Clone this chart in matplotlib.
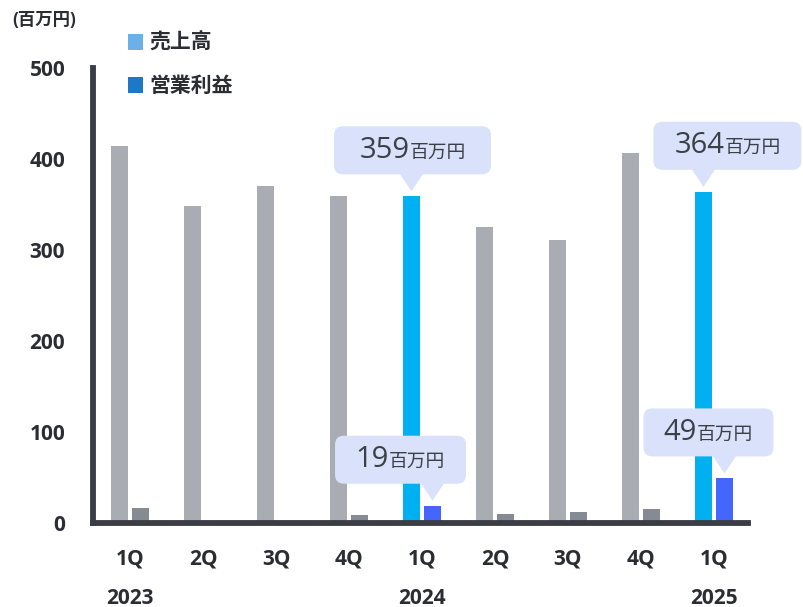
"""
Quarterly sales / operating profit bar chart with callouts.
"""
import matplotlib
matplotlib.use("Agg")
import matplotlib.pyplot as plt
from matplotlib.patches import FancyBboxPatch, Polygon, Rectangle
from matplotlib.transforms import ScaledTranslation
from matplotlib.offsetbox import TextArea, HPacker, AnnotationBbox
import numpy as np

# ----------------- data -----------------------------------------------------
quarters = ["1Q", "2Q", "3Q", "4Q", "1Q", "2Q", "3Q", "4Q", "1Q"]
year_labels = ["2023", "", "", "", "2024", "", "", "", "2025"]
sales = [414, 348, 370, 359, 359, 325, 311, 407, 364]        # 売上高
profit = [16, 1, 0, 9, 19, 10, 12, 15, 49]                    # 営業利益
highlight = [False, False, False, False, True, False, False, False, True]

# ----------------- style ----------------------------------------------------
plt.rcParams["font.family"] = ["Open Sans", "Noto Sans CJK JP", "DejaVu Sans"]
CJK = ["Noto Sans CJK JP", "DejaVu Sans"]

AXIS_C = "#3a3d43"
TEXT_C = "#2b2d32"
SALES_GRAY = "#a9acb3"
PROFIT_GRAY = "#868a93"
SALES_HI = "#00b0f0"
PROFIT_HI = "#4466ff"
CALLOUT_BG = "#d9e1fb"
CALLOUT_TXT = "#3b3f47"

BAR_W = 0.233
OFF = 0.144

fig = plt.figure(figsize=(8.04, 6.07), dpi=100)
ax = fig.add_axes([93 / 804, 84 / 607, 655 / 804, 455 / 607])

x = np.arange(len(quarters), dtype=float)
sales_cols = [SALES_HI if h else SALES_GRAY for h in highlight]
profit_cols = [PROFIT_HI if h else PROFIT_GRAY for h in highlight]
ax.bar(x - OFF, sales, BAR_W, color=sales_cols, zorder=2)
ax.bar(x + OFF, profit, BAR_W, color=profit_cols, zorder=2)

ax.set_xlim(-0.507, 8.466)
ax.set_ylim(0, 500)
ax.set_yticks([0, 100, 200, 300, 400, 500])
ax.set_xticks(x, quarters)
ax.tick_params(axis="both", length=0, labelsize=15, labelcolor=TEXT_C)
ax.tick_params(axis="y", pad=20)
ax.tick_params(axis="x", pad=18)
for lab in ax.get_xticklabels() + ax.get_yticklabels():
    lab.set_fontweight("bold")

for side in ("top", "right"):
    ax.spines[side].set_visible(False)
for side in ("left", "bottom"):
    ax.spines[side].set_color(AXIS_C)
    ax.spines[side].set_linewidth(4.2)
    ax.spines[side].set_zorder(3)
ax.spines["left"].set_capstyle("projecting")

# year labels under the quarter labels
for xi, yr in zip(x, year_labels):
    if yr:
        ax.annotate(yr, xy=(xi, 0), xycoords=("data", "axes fraction"),
                    xytext=(0, -54), textcoords="offset points",
                    ha="center", va="center", fontsize=15,
                    fontweight="bold", color=TEXT_C)


# ----------------- callouts -------------------------------------------------
def callout(xv, yv, number, dx_px, width_px, bottom_px=22, height_px=48):
    tr = fig.dpi_scale_trans + ScaledTranslation(xv, yv, ax.transData)
    left = (dx_px - width_px / 2) / 100
    box = FancyBboxPatch((left, bottom_px / 100), width_px / 100,
                         height_px / 100,
                         boxstyle="round,pad=0,rounding_size=0.09",
                         transform=tr, fc=CALLOUT_BG, ec="none",
                         clip_on=False, zorder=5)
    ax.add_artist(box)
    tri = Polygon([(-0.12, (bottom_px + 1) / 100),
                   (0.12, (bottom_px + 1) / 100), (0, 0.05)],
                  closed=True, transform=tr, fc=CALLOUT_BG, ec="none",
                  clip_on=False, zorder=5)
    ax.add_artist(tri)
    num = TextArea(str(number), textprops=dict(fontsize=21,
                                               color=CALLOUT_TXT,
                                               family="Open Sans"))
    unit = TextArea("百万円", textprops=dict(fontsize=13.5,
                                             color=CALLOUT_TXT,
                                             family=CJK))
    pack = HPacker(children=[num, unit], align="baseline", pad=0, sep=0)
    ab = AnnotationBbox(pack, (xv, yv), xycoords="data",
                        xybox=(dx_px * 0.72,
                               (bottom_px + height_px / 2) * 0.72),
                        boxcoords="offset points", frameon=False,
                        box_alignment=(0.5, 0.5), zorder=6,
                        annotation_clip=False)
    ax.add_artist(ab)


callout(x[4] - OFF, sales[4], sales[4], 1, 157)
callout(x[8] - OFF, sales[8], sales[8], 24, 148)
callout(x[4] + OFF, profit[4], profit[4], -32, 131)
callout(x[8] + OFF, profit[8], profit[8], -16, 130)

# ----------------- unit + legend --------------------------------------------
fig.text(12 / 804, 1 - 20 / 607, "(百万円)", fontsize=12.5,
         fontweight="bold", color=TEXT_C, ha="left", va="center")

legend_items = [("売上高", "#6cb0e8", 42), ("営業利益", "#1e78c8", 85)]
for label, col, yc in legend_items:
    fig.patches.append(Rectangle((128 / 804, 1 - (yc + 7.5) / 607),
                                 15 / 804, 15 / 607, transform=fig.transFigure,
                                 fc=col, ec="none"))
    fig.text(149 / 804, 1 - yc / 607, label, family=CJK, fontsize=15,
             fontweight="bold", color=TEXT_C, ha="left", va="center")

fig.savefig("out.png", dpi=100)
